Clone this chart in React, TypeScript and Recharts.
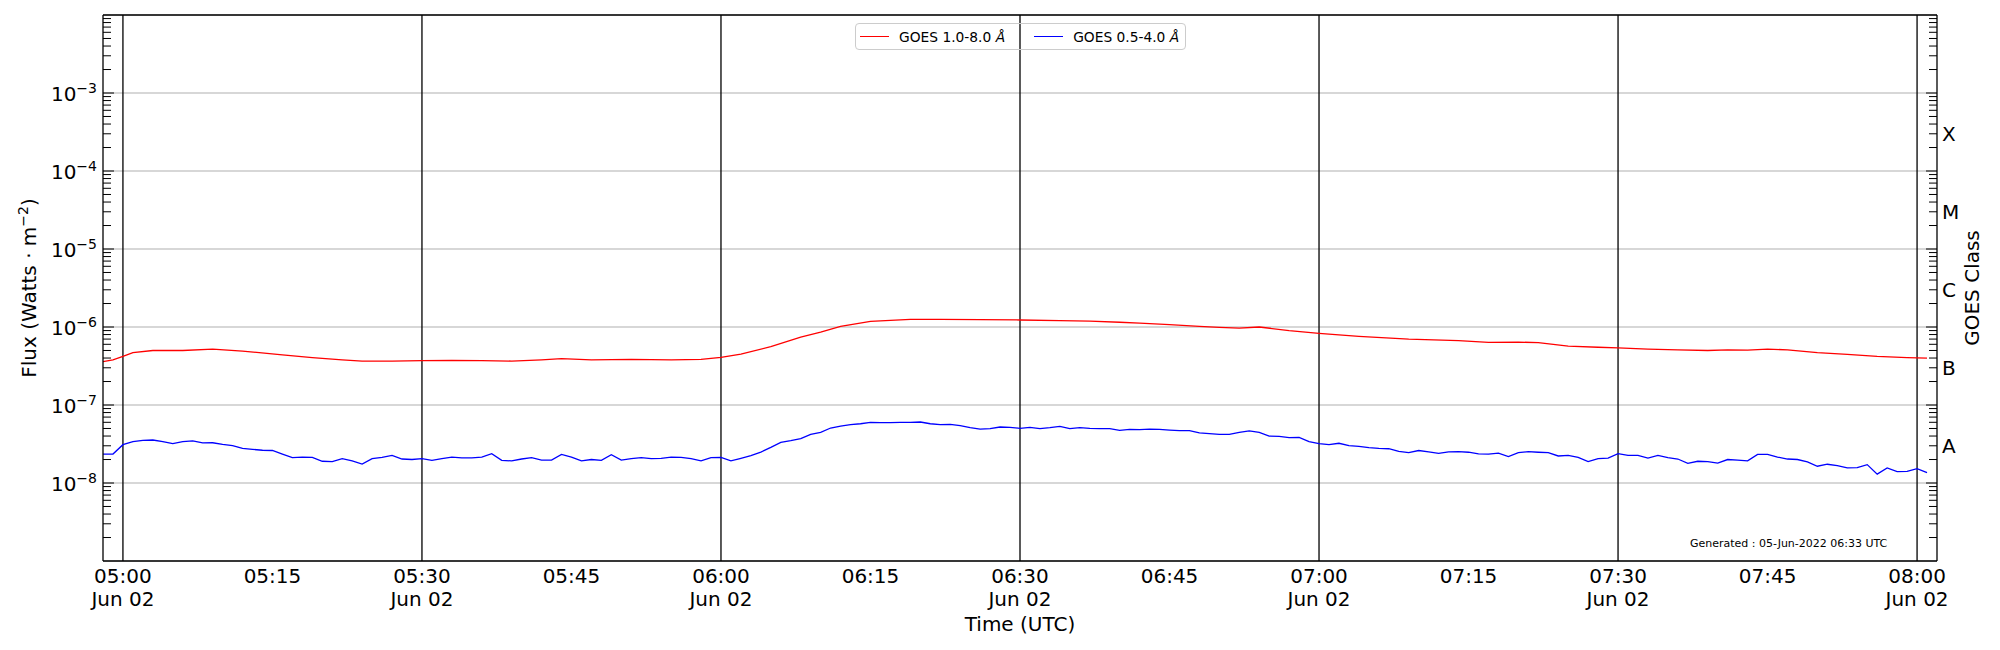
import React from "react";
import {
  LineChart,
  Line,
  XAxis,
  YAxis,
  CartesianGrid,
  ReferenceLine,
  Legend,
} from "recharts";

// minutes after 05:00 UTC, Jun 02
const START_HOUR = 5;
const DATE_LABEL = "Jun 02";
const X_DOMAIN = [-2, 182];
const X_TICKS = [0, 15, 30, 45, 60, 75, 90, 105, 120, 135, 150, 165, 180];
const HOUR_LINES = [0, 30, 60, 90, 120, 150, 180];

const Y_DOMAIN = [1e-9, 1e-2];
const Y_TICKS = [1e-8, 1e-7, 1e-6, 1e-5, 1e-4, 1e-3];
const MINOR_MANTISSAS = [2, 3, 4, 5, 6, 7, 8, 9];
const MINOR_EXPONENTS = [-9, -8, -7, -6, -5, -4, -3];
const CLASS_LABELS = ["A", "B", "C", "M", "X"];
const CLASS_LEVELS = [3.16e-8, 3.16e-7, 3.16e-6, 3.16e-5, 3.16e-4];

// GOES 1.0-8.0 A (long channel)
const RED_TIMES = [
  -2, -1, 0, 1, 3, 6, 9, 12, 16, 19, 22, 24, 27, 30, 33, 36, 39, 42, 44, 47,
  51, 55, 58, 60, 62, 65, 68, 70, 72, 75, 79, 82, 86, 90, 94, 97, 100, 102,
  105, 108, 110, 112, 114, 117, 120, 124, 129, 134, 137, 140, 142, 145, 148,
  150, 153, 156, 159, 161, 163, 165, 167, 170, 173, 176, 179, 181,
];
const RED_FLUX = [
  3.6e-7, 3.8e-7, 4.2e-7, 4.7e-7, 5.0e-7, 5.0e-7, 5.2e-7, 4.9e-7, 4.4e-7,
  4.05e-7, 3.8e-7, 3.66e-7, 3.65e-7, 3.7e-7, 3.72e-7, 3.7e-7, 3.66e-7, 3.8e-7,
  3.93e-7, 3.8e-7, 3.85e-7, 3.8e-7, 3.85e-7, 4.07e-7, 4.5e-7, 5.6e-7, 7.4e-7,
  8.6e-7, 1.02e-6, 1.18e-6, 1.25e-6, 1.25e-6, 1.24e-6, 1.23e-6, 1.21e-6,
  1.19e-6, 1.15e-6, 1.12e-6, 1.07e-6, 1.02e-6, 9.9e-7, 9.7e-7, 1.0e-6, 9.0e-7,
  8.3e-7, 7.6e-7, 7.0e-7, 6.67e-7, 6.35e-7, 6.4e-7, 6.3e-7, 5.7e-7, 5.5e-7,
  5.4e-7, 5.2e-7, 5.1e-7, 5.0e-7, 5.1e-7, 5.05e-7, 5.2e-7, 5.1e-7, 4.7e-7,
  4.45e-7, 4.2e-7, 4.05e-7, 4.0e-7,
];

// GOES 0.5-4.0 A (short channel), one value per minute from BLUE_START
const BLUE_START = -2;
const BLUE_FLUX = [
  2.35e-8, 2.35e-8, 3.1e-8, 3.39e-8, 3.52e-8, 3.56e-8, 3.39e-8, 3.19e-8,
  3.39e-8, 3.46e-8, 3.26e-8, 3.28e-8, 3.13e-8, 3.02e-8, 2.78e-8, 2.7e-8,
  2.63e-8, 2.61e-8, 2.35e-8, 2.11e-8, 2.15e-8, 2.13e-8, 1.9e-8, 1.88e-8,
  2.05e-8, 1.92e-8, 1.75e-8, 2.05e-8, 2.13e-8, 2.26e-8, 2.03e-8, 2.0e-8,
  2.05e-8, 1.95e-8, 2.05e-8, 2.15e-8, 2.1e-8, 2.1e-8, 2.15e-8, 2.38e-8,
  1.95e-8, 1.92e-8, 2.03e-8, 2.11e-8, 1.97e-8, 1.97e-8, 2.33e-8, 2.15e-8,
  1.92e-8, 2.0e-8, 1.95e-8, 2.31e-8, 1.97e-8, 2.05e-8, 2.11e-8, 2.05e-8,
  2.07e-8, 2.15e-8, 2.13e-8, 2.05e-8, 1.92e-8, 2.11e-8, 2.13e-8, 1.92e-8,
  2.07e-8, 2.24e-8, 2.49e-8, 2.86e-8, 3.32e-8, 3.49e-8, 3.7e-8, 4.2e-8,
  4.46e-8, 5.07e-8, 5.37e-8, 5.6e-8, 5.75e-8, 6.0e-8, 5.95e-8, 5.95e-8,
  6.0e-8, 6.0e-8, 6.05e-8, 5.75e-8, 5.6e-8, 5.65e-8, 5.43e-8, 5.12e-8,
  4.92e-8, 4.97e-8, 5.22e-8, 5.17e-8, 5.02e-8, 5.17e-8, 4.97e-8, 5.12e-8,
  5.33e-8, 4.97e-8, 5.12e-8, 5.02e-8, 4.97e-8, 4.97e-8, 4.73e-8, 4.87e-8,
  4.82e-8, 4.92e-8, 4.87e-8, 4.77e-8, 4.69e-8, 4.69e-8, 4.38e-8, 4.29e-8,
  4.2e-8, 4.2e-8, 4.46e-8, 4.65e-8, 4.46e-8, 4.0e-8, 3.97e-8, 3.81e-8,
  3.85e-8, 3.39e-8, 3.19e-8, 3.1e-8, 3.23e-8, 3.02e-8, 2.94e-8, 2.84e-8,
  2.78e-8, 2.75e-8, 2.55e-8, 2.45e-8, 2.61e-8, 2.5e-8, 2.4e-8, 2.5e-8,
  2.52e-8, 2.48e-8, 2.36e-8, 2.35e-8, 2.41e-8, 2.18e-8, 2.45e-8, 2.52e-8,
  2.48e-8, 2.45e-8, 2.22e-8, 2.26e-8, 2.13e-8, 1.88e-8, 2.05e-8, 2.09e-8,
  2.38e-8, 2.26e-8, 2.26e-8, 2.09e-8, 2.26e-8, 2.11e-8, 2.03e-8, 1.79e-8,
  1.9e-8, 1.88e-8, 1.8e-8, 2.0e-8, 1.97e-8, 1.92e-8, 2.33e-8, 2.33e-8,
  2.15e-8, 2.03e-8, 2.0e-8, 1.86e-8, 1.64e-8, 1.74e-8, 1.67e-8, 1.56e-8,
  1.57e-8, 1.72e-8, 1.3e-8, 1.56e-8, 1.4e-8, 1.41e-8, 1.53e-8, 1.36e-8,
];

const SERIES = [
  { name: "GOES 1.0-8.0 ", color: "#ff0000" },
  { name: "GOES 0.5-4.0 ", color: "#0000ff" },
];

const FONT = '"DejaVu Sans", sans-serif';
const MAJOR_LEN = 11;
const MINOR_LEN = 8;

const redData = RED_TIMES.map((t, i) => ({ t, v: RED_FLUX[i] }));
const blueData = BLUE_FLUX.map((v, i) => ({ t: BLUE_START + i, v }));
const minorTicks = MINOR_EXPONENTS.flatMap((e) =>
  MINOR_MANTISSAS.map((m) => m * Math.pow(10, e))
);
const yTickMarks = [...Y_TICKS, ...minorTicks];

// inward tick marks on the y axes: dir 1 = left side, -1 = right side
const makeYMark = (dir: number) => (props: any) => {
  const { x, y, payload } = props;
  const len = Y_TICKS.includes(payload.value) ? MAJOR_LEN : MINOR_LEN;
  return <line x1={x} y1={y} x2={x + dir * len} y2={y} stroke="#000" strokeWidth={1} />;
};
const leftMark = makeYMark(1);
const rightMark = makeYMark(-1);

const XMark = (props: any) => {
  const { x, y } = props;
  return <line x1={x} y1={y} x2={x} y2={y - MAJOR_LEN} stroke="#000" strokeWidth={1} />;
};

function timeLabel(m: number) {
  const total = START_HOUR * 60 + m;
  const hh = String(Math.floor(total / 60)).padStart(2, "0");
  const mm = String(total % 60).padStart(2, "0");
  return `${hh}:${mm}`;
}

const TimeTick = (props: any) => {
  const { x, y, payload } = props;
  const m = payload.value;
  return (
    <g>
      <text x={x} y={y + 22} textAnchor="middle" fontSize={20} fontFamily={FONT} fill="#000">
        {timeLabel(m)}
      </text>
      {m % 30 === 0 && (
        <text x={x} y={y + 45} textAnchor="middle" fontSize={20} fontFamily={FONT} fill="#000">
          {DATE_LABEL}
        </text>
      )}
    </g>
  );
};

const PowerTick = (props: any) => {
  const { x, y, payload } = props;
  const exp = Math.round(Math.log10(payload.value));
  return (
    <text x={x} y={y + 7.5} textAnchor="end" fontSize={20} fontFamily={FONT} fill="#000">
      <tspan>10</tspan>
      <tspan dy={-8} fontSize={14}>{"\u2212" + Math.abs(exp)}</tspan>
    </text>
  );
};

const ClassTick = (props: any) => {
  const { x, y, payload } = props;
  const i = CLASS_LEVELS.indexOf(payload.value);
  return (
    <text x={x} y={y + 8.5} textAnchor="start" fontSize={20} fontFamily={FONT} fill="#000">
      {CLASS_LABELS[i]}
    </text>
  );
};

const LegendBox = () => (
  <div
    style={{
      boxSizing: "border-box",
      width: 331,
      height: 27,
      border: "1px solid #cccccc",
      borderRadius: 4,
      display: "flex",
      alignItems: "center",
      paddingLeft: 4,
      fontFamily: FONT,
      fontSize: 13.8,
      color: "#000",
      whiteSpace: "nowrap",
    }}
  >
    {SERIES.map((s, i) => (
      <div key={s.name} style={{ display: "flex", alignItems: "center", marginLeft: i ? 29 : 0 }}>
        <div style={{ width: 29, borderTop: `1.3px solid ${s.color}`, marginRight: 10 }} />
        <span>
          {s.name}
          <i>Å</i>
        </span>
      </div>
    ))}
  </div>
);

const axisStroke = { stroke: "#000", strokeWidth: 1.3 };

export default function App() {
  return (
    <div style={{ position: "absolute", left: 0, top: 0, width: 2000, height: 650, background: "#fff" }}>
      <LineChart width={2000} height={650} margin={{ top: 14, right: 0, bottom: 0, left: 0 }}>
        <CartesianGrid xAxisId="main" yAxisId="main" vertical={false} stroke="#b0b0b0" strokeWidth={1.1} />

        <XAxis
          xAxisId="main"
          type="number"
          dataKey="t"
          domain={X_DOMAIN}
          allowDataOverflow
          ticks={X_TICKS}
          interval={0}
          height={89}
          tickSize={0}
          tickMargin={0}
          tickLine={false}
          axisLine={axisStroke}
          tick={<TimeTick />}
          label={(p: any) => (
            <text
              x={p.viewBox.x + p.viewBox.width / 2}
              y={p.viewBox.y + 70}
              textAnchor="middle"
              fontSize={20}
              fontFamily={FONT}
              fill="#000"
            >
              Time (UTC)
            </text>
          )}
        />
        <XAxis
          xAxisId="marks"
          type="number"
          domain={X_DOMAIN}
          allowDataOverflow
          mirror
          height={1}
          ticks={X_TICKS}
          interval={0}
          tickSize={0}
          tickMargin={0}
          tickLine={false}
          axisLine={false}
          tick={XMark}
        />
        <XAxis
          xAxisId="top"
          orientation="top"
          type="number"
          domain={X_DOMAIN}
          allowDataOverflow
          height={1}
          tick={false}
          tickLine={false}
          axisLine={axisStroke}
        />

        <YAxis
          yAxisId="main"
          scale="log"
          domain={Y_DOMAIN}
          allowDataOverflow
          ticks={Y_TICKS}
          interval={0}
          width={103}
          tickSize={0}
          tickMargin={6}
          tickLine={false}
          axisLine={axisStroke}
          tick={<PowerTick />}
          label={() => (
            <text
              x={36}
              y={288}
              transform="rotate(-90, 36, 288)"
              textAnchor="middle"
              fontSize={20}
              fontFamily={FONT}
              fill="#000"
            >
              <tspan>Flux (Watts · m</tspan>
              <tspan dy={-8} fontSize={14}>−2</tspan>
              <tspan dy={8}>)</tspan>
            </text>
          )}
        />
        <YAxis
          yAxisId="marksL"
          scale="log"
          domain={Y_DOMAIN}
          allowDataOverflow
          ticks={yTickMarks}
          interval={0}
          mirror
          width={1}
          tickSize={0}
          tickMargin={0}
          tickLine={false}
          axisLine={false}
          tick={leftMark}
        />
        <YAxis
          yAxisId="right"
          orientation="right"
          scale="log"
          domain={Y_DOMAIN}
          allowDataOverflow
          ticks={CLASS_LEVELS}
          interval={0}
          width={63}
          tickSize={0}
          tickMargin={5}
          tickLine={false}
          axisLine={axisStroke}
          tick={<ClassTick />}
          label={() => (
            <text
              x={1979}
              y={288}
              transform="rotate(-90, 1979, 288)"
              textAnchor="middle"
              fontSize={20}
              fontFamily={FONT}
              fill="#000"
            >
              GOES Class
            </text>
          )}
        />
        <YAxis
          yAxisId="marksR"
          orientation="right"
          scale="log"
          domain={Y_DOMAIN}
          allowDataOverflow
          ticks={yTickMarks}
          interval={0}
          mirror
          width={1}
          tickSize={0}
          tickMargin={0}
          tickLine={false}
          axisLine={false}
          tick={rightMark}
        />

        {HOUR_LINES.map((m) => (
          <ReferenceLine key={m} xAxisId="main" yAxisId="main" x={m} stroke="#000" strokeWidth={1.3} />
        ))}

        <Line
          xAxisId="main"
          yAxisId="main"
          data={redData}
          dataKey="v"
          name={SERIES[0].name}
          type="linear"
          stroke={SERIES[0].color}
          strokeWidth={1.3}
          dot={false}
          activeDot={false}
          isAnimationActive={false}
        />
        <Line
          xAxisId="main"
          yAxisId="main"
          data={blueData}
          dataKey="v"
          name={SERIES[1].name}
          type="linear"
          stroke={SERIES[1].color}
          strokeWidth={1.3}
          dot={false}
          activeDot={false}
          isAnimationActive={false}
        />

        <Legend
          layout="horizontal"
          verticalAlign="middle"
          align="center"
          content={<LegendBox />}
          wrapperStyle={{ left: 855, top: 23, width: 331, height: 27 }}
        />
      </LineChart>
      <div
        style={{
          position: "absolute",
          left: 1690,
          top: 537,
          fontFamily: FONT,
          fontSize: 11,
          color: "#000",
          whiteSpace: "nowrap",
        }}
      >
        Generated : 05-Jun-2022 06:33 UTC
      </div>
    </div>
  );
}
